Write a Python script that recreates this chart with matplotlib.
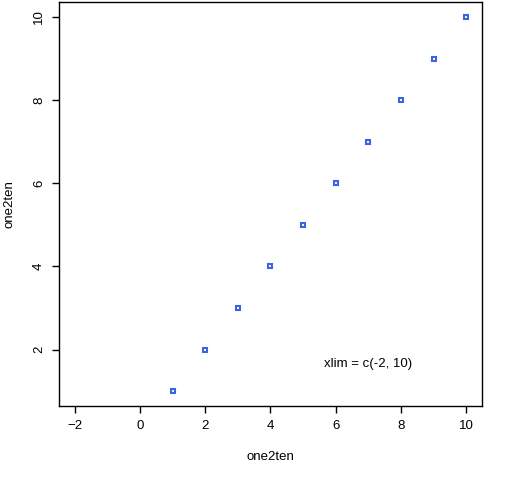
import matplotlib
matplotlib.use("Agg")
import matplotlib.pyplot as plt

one2ten = [1, 2, 3, 4, 5, 6, 7, 8, 9, 10]
x_ticks = [-2, 0, 2, 4, 6, 8, 10]
y_ticks = [2, 4, 6, 8, 10]
note = "xlim = c(-2, 10)"

plt.rcParams["font.family"] = ["Liberation Sans", "DejaVu Sans"]
plt.rcParams["font.size"] = 9.5

fig = plt.figure(figsize=(5.12, 4.8), dpi=100)
ax = fig.add_axes([0.1152, 0.154, 0.8262, 0.8418])

ax.plot(one2ten, one2ten, linestyle="none", marker="s", markersize=2.8,
        markerfacecolor="none", markeredgecolor="#3a64e0", markeredgewidth=1.5)
ax.text(7, 1.65, note, ha="center", va="center")

ax.set_xlim(-2.48, 10.48)
ax.set_ylim(0.64, 10.36)
ax.set_xticks(x_ticks)
ax.set_yticks(y_ticks)
ax.set_yticklabels([str(v) for v in y_ticks], rotation=90, va="center")
ax.tick_params(direction="out", length=5, width=1, pad=5)
for s in ax.spines.values():
    s.set_linewidth(1)
ax.set_xlabel("one2ten", labelpad=14)
ax.set_ylabel("one2ten", labelpad=13)

fig.savefig("out.png", dpi=100)
